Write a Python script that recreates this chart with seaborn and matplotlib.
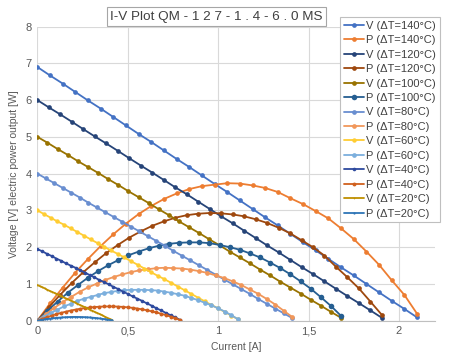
import matplotlib
matplotlib.use("Agg")
import matplotlib.pyplot as plt
import seaborn as sns

# I-V curves of the TEG module, one set per temperature difference
current_140 = [0.00, 0.07, 0.14, 0.21, 0.28, 0.35, 0.42, 0.49, 0.56, 0.63, 0.70, 0.77, 0.84, 0.91, 0.98, 1.05,
               1.12, 1.19, 1.26, 1.33, 1.40, 1.47, 1.54, 1.61, 1.68, 1.75, 1.82, 1.89, 1.96, 2.03, 2.10]
voltage_140 = [6.90, 6.67, 6.45, 6.22, 5.99, 5.77, 5.54, 5.31, 5.08, 4.86, 4.63, 4.40, 4.18, 3.95, 3.72, 3.50,
               3.27, 3.04, 2.81, 2.59, 2.36, 2.13, 1.91, 1.68, 1.45, 1.23, 1.00, 0.77, 0.54, 0.32, 0.09]
power_140 = [0.00, 0.47, 0.90, 1.31, 1.68, 2.03, 2.35, 2.64, 2.90, 3.12, 3.31, 3.46, 3.58, 3.66, 3.70, 3.74,
             3.73, 3.68, 3.61, 3.50, 3.33, 3.17, 2.98, 2.78, 2.51, 2.22, 1.88, 1.52, 1.10, 0.70, 0.19]

current_120 = [0.000, 0.064, 0.127, 0.191, 0.254, 0.318, 0.381, 0.445, 0.508, 0.572, 0.635, 0.699, 0.762, 0.826,
               0.889, 0.953, 1.016, 1.080, 1.143, 1.207, 1.270, 1.334, 1.397, 1.461, 1.524, 1.588, 1.651, 1.715,
               1.778, 1.842, 1.905]
voltage_120 = [6.00, 5.80, 5.61, 5.41, 5.21, 5.01, 4.82, 4.62, 4.42, 4.22, 4.03, 3.83, 3.63, 3.44, 3.24, 3.04,
               2.84, 2.65, 2.45, 2.25, 2.05, 1.86, 1.66, 1.46, 1.27, 1.07, 0.87, 0.67, 0.48, 0.28, 0.08]
power_120 = [0.00, 0.37, 0.71, 1.03, 1.32, 1.59, 1.84, 2.06, 2.26, 2.43, 2.58, 2.70, 2.80, 2.87, 2.91, 2.93,
             2.92, 2.89, 2.84, 2.76, 2.66, 2.53, 2.38, 2.19, 2.00, 1.77, 1.47, 1.18, 0.88, 0.52, 0.16]

current_100 = [0.000, 0.056, 0.112, 0.168, 0.224, 0.280, 0.336, 0.392, 0.448, 0.504, 0.560, 0.616, 0.672, 0.728,
               0.784, 0.840, 0.896, 0.952, 1.008, 1.064, 1.120, 1.176, 1.232, 1.288, 1.344, 1.400, 1.456, 1.512,
               1.568, 1.624, 1.680]
voltage_100 = [5.00, 4.84, 4.67, 4.51, 4.34, 4.18, 4.02, 3.85, 3.69, 3.52, 3.36, 3.20, 3.03, 2.87, 2.70, 2.54,
               2.38, 2.21, 2.05, 1.88, 1.72, 1.56, 1.39, 1.23, 1.06, 0.90, 0.74, 0.57, 0.41, 0.24, 0.08]
power_100 = [0.00, 0.27, 0.52, 0.76, 0.97, 1.17, 1.35, 1.51, 1.65, 1.78, 1.88, 1.97, 2.04, 2.09, 2.12, 2.13,
             2.13, 2.11, 2.06, 2.00, 1.93, 1.83, 1.72, 1.58, 1.43, 1.26, 1.07, 0.87, 0.64, 0.40, 0.13]

current_80 = [0.000, 0.047, 0.094, 0.141, 0.188, 0.235, 0.282, 0.329, 0.376, 0.423, 0.470, 0.517, 0.564, 0.611,
              0.658, 0.705, 0.752, 0.799, 0.846, 0.893, 0.940, 0.987, 1.034, 1.081, 1.128, 1.175, 1.222, 1.269,
              1.316, 1.363, 1.410]
voltage_80 = [4.00, 3.87, 3.74, 3.61, 3.48, 3.35, 3.21, 3.08, 2.95, 2.82, 2.69, 2.56, 2.43, 2.30, 2.17, 2.04,
              1.90, 1.77, 1.64, 1.51, 1.38, 1.25, 1.12, 0.99, 0.86, 0.73, 0.59, 0.46, 0.33, 0.20, 0.07]
power_80 = [0.00, 0.18, 0.35, 0.51, 0.65, 0.79, 0.91, 1.01, 1.11, 1.19, 1.26, 1.32, 1.37, 1.40, 1.43, 1.44,
            1.43, 1.42, 1.39, 1.35, 1.30, 1.23, 1.16, 1.07, 0.97, 0.85, 0.73, 0.59, 0.44, 0.27, 0.10]

current_60 = [0.000, 0.037, 0.074, 0.111, 0.148, 0.185, 0.222, 0.259, 0.296, 0.333, 0.370, 0.407, 0.444, 0.481,
              0.518, 0.555, 0.592, 0.629, 0.666, 0.703, 0.740, 0.777, 0.814, 0.851, 0.888, 0.925, 0.962, 0.999,
              1.036, 1.073, 1.110]
voltage_60 = [3.00, 2.90, 2.80, 2.70, 2.61, 2.51, 2.41, 2.31, 2.21, 2.11, 2.01, 1.91, 1.82, 1.72, 1.62, 1.52,
              1.42, 1.32, 1.22, 1.13, 1.03, 0.93, 0.83, 0.73, 0.63, 0.53, 0.43, 0.34, 0.24, 0.14, 0.04]
power_60 = [0.00, 0.11, 0.21, 0.30, 0.39, 0.46, 0.54, 0.60, 0.65, 0.70, 0.75, 0.78, 0.81, 0.83, 0.84, 0.84,
            0.84, 0.83, 0.82, 0.79, 0.76, 0.72, 0.68, 0.62, 0.56, 0.49, 0.42, 0.34, 0.25, 0.15, 0.04]

current_40 = [0.000, 0.026, 0.053, 0.079, 0.105, 0.132, 0.158, 0.184, 0.211, 0.237, 0.263, 0.290, 0.316, 0.342,
              0.369, 0.395, 0.421, 0.448, 0.474, 0.500, 0.527, 0.553, 0.579, 0.606, 0.632, 0.658, 0.685, 0.711,
              0.737, 0.764, 0.790]
voltage_40 = [1.95, 1.89, 1.82, 1.76, 1.69, 1.63, 1.56, 1.50, 1.44, 1.37, 1.31, 1.24, 1.18, 1.11, 1.05, 0.99,
              0.92, 0.86, 0.79, 0.73, 0.66, 0.60, 0.54, 0.47, 0.41, 0.34, 0.28, 0.21, 0.15, 0.09, 0.02]
power_40 = [0.000, 0.050, 0.096, 0.139, 0.178, 0.215, 0.247, 0.277, 0.303, 0.325, 0.344, 0.360, 0.372, 0.381,
            0.387, 0.389, 0.388, 0.384, 0.376, 0.364, 0.350, 0.332, 0.310, 0.285, 0.257, 0.226, 0.190, 0.152,
            0.111, 0.065, 0.017]

current_20 = [0.000, 0.014, 0.028, 0.041, 0.055, 0.069, 0.083, 0.097, 0.110, 0.124, 0.138, 0.152, 0.166, 0.179,
              0.193, 0.207, 0.221, 0.235, 0.248, 0.262, 0.276, 0.290, 0.304, 0.317, 0.331, 0.345, 0.359, 0.373,
              0.386, 0.400, 0.414]
voltage_20 = [0.97, 0.94, 0.91, 0.88, 0.84, 0.81, 0.78, 0.75, 0.72, 0.69, 0.65, 0.62, 0.59, 0.56, 0.53, 0.50,
              0.46, 0.43, 0.40, 0.37, 0.34, 0.30, 0.27, 0.24, 0.21, 0.18, 0.15, 0.11, 0.08, 0.05, 0.02]
power_20 = [0.000, 0.013, 0.025, 0.036, 0.047, 0.056, 0.065, 0.072, 0.079, 0.085, 0.090, 0.094, 0.098, 0.100,
            0.102, 0.103, 0.102, 0.101, 0.099, 0.097, 0.093, 0.088, 0.083, 0.077, 0.069, 0.061, 0.052, 0.043,
            0.032, 0.020, 0.008]

x_ticks = [0, 0.5, 1, 1.5, 2]
x_tick_labels = ["0", "0,5", "1", "1,5", "2"]
y_ticks = [0, 1, 2, 3, 4, 5, 6, 7, 8]

sns.set_style("whitegrid")
plt.rcParams['font.family'] = ['Liberation Sans', 'DejaVu Sans']

fig = plt.figure(figsize=(4.5, 3.54), dpi=100)
ax = fig.add_axes([0.083, 0.094, 0.884, 0.831])

# label, x, y, colour, marker size
series = [
    ("V (ΔT=140°C)", current_140, voltage_140, "#4472C4", 3.4),
    ("P (ΔT=140°C)", current_140, power_140, "#ED7D31", 3.4),
    ("V (ΔT=120°C)", current_120, voltage_120, "#264478", 3.4),
    ("P (ΔT=120°C)", current_120, power_120, "#9E480E", 3.4),
    ("V (ΔT=100°C)", current_100, voltage_100, "#997300", 3.4),
    ("P (ΔT=100°C)", current_100, power_100, "#255E91", 4.0),
    ("V (ΔT=80°C)", current_80, voltage_80, "#698ED0", 3.4),
    ("P (ΔT=80°C)", current_80, power_80, "#F1975A", 3.4),
    ("V (ΔT=60°C)", current_60, voltage_60, "#FFCD33", 3.2),
    ("P (ΔT=60°C)", current_60, power_60, "#7CAFDD", 3.4),
    ("V (ΔT=40°C)", current_40, voltage_40, "#2E4A9E", 2.6),
    ("P (ΔT=40°C)", current_40, power_40, "#D0601E", 2.8),
    ("V (ΔT=20°C)", current_20, voltage_20, "#BF9000", 1.2),
    ("P (ΔT=20°C)", current_20, power_20, "#2E75B6", 1.6),
]

for label, x, y, color, ms in series:
    sns.lineplot(x=x, y=y, ax=ax, color=color, marker="o", markersize=ms,
                 markeredgecolor=color, markeredgewidth=0, linewidth=1.3,
                 label=label, sort=False, estimator=None)

ax.set_xlim(0, 2.2)
ax.set_ylim(0, 8)
ax.set_xticks(x_ticks)
ax.set_xticklabels(x_tick_labels)
ax.set_yticks(y_ticks)
ax.tick_params(axis="both", length=0, labelsize=8, labelcolor="#595959", pad=4)
ax.grid(True, color="#D9D9D9", linewidth=0.8)
for side in ["top", "right", "left"]:
    ax.spines[side].set_visible(False)
ax.spines["bottom"].set_color("#BFBFBF")
ax.spines["bottom"].set_linewidth(0.8)

ax.set_xlabel("Current [A]", fontsize=7.5, color="#595959", labelpad=4)
ax.set_ylabel("Voltage [V] electric power output [W]", fontsize=7.5, color="#595959", labelpad=5)

leg = ax.legend(loc="upper right", bbox_to_anchor=(1.012, 1.033), fontsize=8, frameon=True,
                fancybox=False, edgecolor="#BFBFBF", framealpha=1, labelspacing=0.4,
                handlelength=1.8, handletextpad=0.2, borderpad=0.35, borderaxespad=0,
                labelcolor="#404040")
leg.get_frame().set_linewidth(0.8)

fig.text(0.481, 0.953, "I-V Plot QM - 1 2 7 - 1 . 4 - 6 . 0 MS", fontsize=9.7, color="#404040",
         ha="center", va="center",
         bbox=dict(boxstyle="square,pad=0.25", fc="white", ec="#A6A6A6", lw=0.8))

fig.savefig("out.png", dpi=100)
